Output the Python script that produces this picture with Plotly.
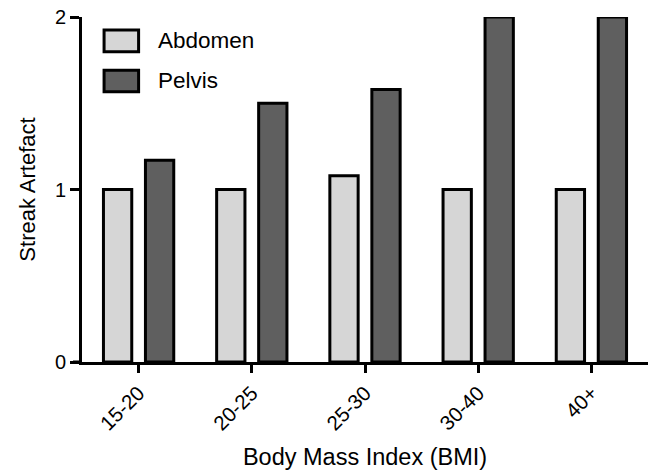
import plotly.graph_objects as go

categories = ["15-20", "20-25", "25-30", "30-40", "40+"]
abdomen = [1.0, 1.0, 1.08, 1.0, 1.0]
pelvis = [1.17, 1.5, 1.58, 2.0, 2.0]
series_names = ["Abdomen", "Pelvis"]
y_ticks = [0, 1, 2]

light = "#d6d6d6"
dark = "#5f5f5f"
font = "Liberation Sans, Arial, sans-serif"

fig = go.Figure()
fig.add_bar(x=categories, y=abdomen, name=series_names[0],
            marker=dict(color=light, line=dict(color="black", width=3)))
fig.add_bar(x=categories, y=pelvis, name=series_names[1],
            marker=dict(color=dark, line=dict(color="black", width=3)))

fig.update_layout(
    width=653, height=471,
    margin=dict(l=82, r=5, t=17, b=109, autoexpand=False),
    barmode="group", bargap=0.258, bargroupgap=0.326,
    plot_bgcolor="white", paper_bgcolor="white",
    showlegend=False,
    font=dict(family=font, size=20, color="black"),
)
fig.update_xaxes(
    range=[-0.5, 4.5], showline=True, linecolor="black", linewidth=3,
    ticks="outside", ticklen=8, tickwidth=3, tickcolor="black",
    tickangle=-45, showgrid=False, zeroline=False, automargin=False,
    title=dict(text="Body Mass Index (BMI)", standoff=16, font=dict(size=23.5)),
    tickfont=dict(size=20.5),
)
fig.update_yaxes(
    range=[0, 2], tickvals=y_ticks, showline=True, linecolor="black", linewidth=3,
    ticks="outside", ticklen=9, tickwidth=3, tickcolor="black",
    showgrid=False, zeroline=False, automargin=False,
    title=dict(text="Streak Artefact", standoff=14, font=dict(size=22)),
    tickfont=dict(size=20),
)

# x-axis line overhang to the left (Prism style)
fig.add_shape(type="line", xref="paper", yref="paper", x0=-9/566, x1=0, y0=0, y1=0,
              line=dict(color="black", width=3))

# custom legend with large swatches
legend_items = [(series_names[0], light, 0.962, 0.899), (series_names[1], dark, 0.846, 0.783)]
for name, col, ytop, ybot in legend_items:
    fig.add_shape(type="rect", xref="paper", yref="paper",
                  x0=0.039, x1=0.1, y0=ybot, y1=ytop,
                  fillcolor=col, line=dict(color="black", width=3))
    fig.add_annotation(xref="paper", yref="paper", x=0.130, y=(ytop + ybot) / 2,
                       text=name, showarrow=False, xanchor="left", yanchor="middle",
                       font=dict(size=22.5, family=font))

fig.write_html("out.html")
